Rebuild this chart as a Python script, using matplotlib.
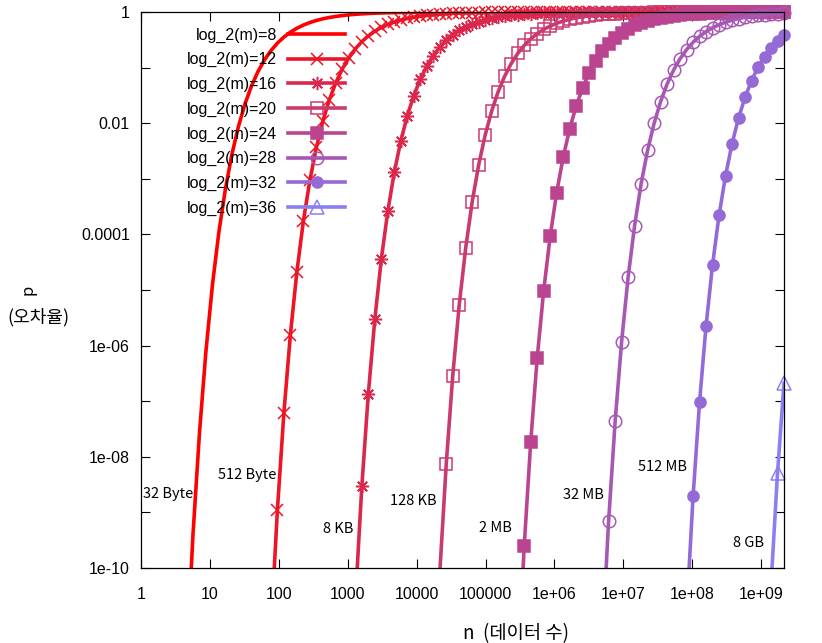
import matplotlib
matplotlib.use('Agg')
import matplotlib.pyplot as plt
from matplotlib.lines import Line2D
from matplotlib.ticker import FixedLocator, FixedFormatter, NullLocator

# ---------------- data ----------------
log2_m = [8, 12, 16, 20, 24, 28, 32, 36]
series_names = ['log_2(m)=%d' % k for k in log2_m]
size_labels = ['32 Byte', '512 Byte', '8 KB', '128 KB', '2 MB', '32 MB', '512 MB', '8 GB']
label_n = [1.07, 13.1, 438, 4110, 8.05e4, 1.33e6, 1.63e7, 3.91e8]
label_p = [2.1e-9, 4.7e-9, 5.0e-10, 1.6e-9, 5.2e-10, 2.05e-9, 6.6e-9, 2.8e-10]

x_ticks = [1, 10, 100, 1000, 10000, 100000, 1e6, 1e7, 1e8, 1e9]
x_tick_labels = ['1', '10', '100', '1000', '10000', '100000', '1e+06', '1e+07', '1e+08', '1e+09']
y_ticks = [1e-10, 1e-9, 1e-8, 1e-7, 1e-6, 1e-5, 1e-4, 1e-3, 1e-2, 1e-1, 1]
y_tick_labels = ['1e-10', '', '1e-08', '', '1e-06', '', '0.0001', '', '0.01', '', '1']
x_range = [1, 2.1475e9]
y_range = [1e-10, 1]

# sample positions of n (marker x positions)
n_samples = [
    1, 1.2424, 1.5436, 1.9177, 2.3826, 2.9602, 3.6777, 4.5693, 5.6768, 7.0530,
    8.7628, 10.887, 13.525, 16.804, 20.877, 25.938, 32.225, 40.036, 49.741, 61.80,
    76.78, 95.39, 118.51, 147.24, 182.93, 227.28, 282.37, 350.81, 435.85, 541.50,
    672.76, 835.84, 1038.4, 1290.2, 1602.9, 1991.4, 2474.2, 3073.9, 3819.0, 4744.8,
    5895.0, 7323.9, 9099.2, 11305, 14045, 17450, 21680, 26935, 33464, 41576,
    51653, 64174, 79731, 99057, 1.2307e5, 1.5290e5, 1.8997e5, 2.3601e5, 2.9322e5, 3.6430e5,
    4.5260e5, 5.6232e5, 6.9862e5, 8.6798e5, 1.0783e6, 1.3398e6, 1.6645e6, 2.0680e6, 2.5693e6, 3.1921e6,
    3.9659e6, 4.9272e6, 6.1216e6, 7.6055e6, 9.4491e6, 1.1740e7, 1.4585e7, 1.8121e7, 2.2513e7, 2.7971e7,
    3.4750e7, 4.3174e7, 5.3639e7, 6.6642e7, 8.2796e7, 1.0287e8, 1.2780e8, 1.5878e8, 1.9727e8, 2.4509e8,
    3.0450e8, 3.7830e8, 4.7001e8, 5.8394e8, 7.2548e8, 9.0134e8, 1.1198e9, 1.3913e9, 1.7285e9, 2.1475e9,
]

# index of the first sample of each series in n_samples
first_sample = [7, 20, 33, 46, 58, 71, 84, 97]

p_8 = [2.0e-12, 3.9e-10, 2.67e-8, 8.0e-7, 1.24e-5, 1.12e-4, 6.6e-4, 2.76e-3, 8.7e-3, 0.0220,
       0.0463, 0.0844, 0.1366, 0.2015, 0.2754, 0.3541, 0.4337, 0.5105, 0.5819, 0.6467,
       0.7041, 0.7541, 0.7968, 0.8328, 0.8631, 0.8884, 0.9091, 0.9262, 0.9401, 0.9515,
       0.9608, 0.9683, 0.9744, 0.9794, 0.9834, 0.9866, 0.9892, 0.9913, 0.9930, 0.9943,
       0.9954, 0.9963, 0.9971, 0.9976, 0.9981, 0.9985, 0.9988, 0.9990, 0.9992, 0.9994,
       0.9995, 0.9996, 0.9997, 0.9997, 0.9998]
p_12 = [7.4e-12, 1.10e-9, 6.14e-8, 1.57e-6, 2.13e-5, 1.736e-4, 9.40e-4, 3.66e-3, 0.01094, 0.02640,
        0.05364, 0.09493, 0.1503, 0.2176, 0.2929, 0.3722, 0.4514, 0.5272, 0.5973, 0.6605,
        0.7161, 0.7643, 0.8055, 0.8403, 0.8692, 0.8934, 0.9134, 0.9296, 0.9429, 0.9538,
        0.9626, 0.9698, 0.9756, 0.9803, 0.9841, 0.9872, 0.9897, 0.9917, 0.9933, 0.9946,
        0.9957, 0.9965, 0.9972, 0.9977, 0.9982, 0.9985, 0.9988, 0.9991, 0.9992, 0.9994,
        0.9995, 0.9996, 0.9997, 0.9997, 0.9998, 0.9998, 0.9999, 0.9999, 0.9999, 0.9999,
        1.0, 1.0, 1.0, 1.0, 1.0, 1.0, 1.0, 1.0, 1.0, 1.0,
        1.0, 1.0, 1.0, 1.0, 1.0, 1.0, 1.0, 1.0, 1.0, 1.0]
p_16 = [2.5e-11, 2.94e-9, 1.36e-7, 2.97e-6, 3.56e-5, 2.625e-4, 1.312e-3, 4.79e-3, 0.01358, 0.03142,
        0.06170, 0.1062, 0.1646, 0.2340, 0.3107, 0.3903, 0.4690, 0.5435, 0.6122, 0.6738,
        0.7276, 0.7740, 0.8139, 0.8472, 0.8751, 0.8982, 0.9172, 0.9328, 0.9456, 0.9559,
        0.9644, 0.9712, 0.9768, 0.9813, 0.9849, 0.9878, 0.9902, 0.9921, 0.9936, 0.9949,
        0.9959, 0.9967, 0.9973, 0.9978, 0.9983, 0.9986, 0.9989, 0.9991, 0.9993, 0.9994,
        0.9995, 0.9996, 0.9997, 0.9997, 0.9998, 0.9998, 0.9999, 0.9999, 0.9999, 1.0,
        1.0, 1.0, 1.0, 1.0, 1.0, 1.0, 1.0]
p_20 = [8.1e-11, 7.53e-9, 2.89e-7, 5.46e-6, 5.81e-5, 3.896e-4, 1.801e-3, 6.18e-3, 0.01668, 0.03707,
        0.07051, 0.1183, 0.1794, 0.2508, 0.3285, 0.4083, 0.4861, 0.5597, 0.6267, 0.6866,
        0.7386, 0.7840, 0.8219, 0.8541, 0.8808, 0.9028, 0.9210, 0.9360, 0.9481, 0.9580,
        0.9660, 0.9726, 0.9779, 0.9821, 0.9856, 0.9884, 0.9907, 0.9925, 0.9939, 0.9951,
        0.9961, 0.9968, 0.9975, 0.9980, 0.9984, 0.9987, 0.9989, 0.9991, 0.9993, 0.9994,
        0.9996, 0.9996, 0.9997, 0.9998]
p_24 = [1.15e-12, 2.46e-10, 1.84e-8, 5.95e-7, 9.75e-6, 9.26e-5, 5.67e-4, 2.437e-3, 7.88e-3, 0.02028,
        0.04340, 0.0800, 0.1310, 0.1948, 0.2680, 0.3464, 0.4261, 0.5032, 0.5754, 0.6409,
        0.6989, 0.7495, 0.7930, 0.8296, 0.8604, 0.8862, 0.9073, 0.9247, 0.9389, 0.9505,
        0.9600, 0.9676, 0.9739, 0.9789, 0.9830, 0.9863, 0.9890, 0.9911, 0.9928, 0.9942,
        0.9954, 0.9963]
p_28 = [4.3e-12, 7.08e-10, 4.32e-8, 1.18e-6, 1.693e-5, 1.444e-4, 8.11e-4, 3.25e-3, 9.94e-3, 0.02444,
        0.05043, 0.09030, 0.1443, 0.2106, 0.2854, 0.3645, 0.4438, 0.5201, 0.5908, 0.6547,
        0.7111, 0.7600, 0.8019, 0.8372, 0.8667, 0.8913, 0.9115, 0.9281, 0.9417]
p_32 = [1.5e-11, 1.94e-9, 9.72e-8, 2.27e-6, 2.864e-5, 2.204e-4, 1.140e-3, 4.27e-3, 0.01240, 0.02920,
        0.05816, 0.1013, 0.1583, 0.2269, 0.3031, 0.3825]
p_36 = [4.9e-11, 5.06e-9, 2.10e-7]

p_series = [p_8, p_12, p_16, p_20, p_24, p_28, p_32, p_36]

# ---------------- styles ----------------
colors = ['#ff0000', '#ed1426', '#dc274c', '#ca3a70', '#bb4490', '#a658b4', '#946bd6', '#8a80f2']
markers = [None, 'x', (8, 2, 0), 's', 's', 'o', 'o', '^']
filled = [False, False, False, False, True, False, True, False]
msizes = [0, 8.4, 9.5, 8.6, 8.4, 9.0, 8.0, 10.5]

TICK_FONT = ['Liberation Sans', 'DejaVu Sans']
KR_FONT = ['Noto Sans CJK KR', 'DejaVu Sans']

fig = plt.figure(figsize=(8.22, 6.43), dpi=100)
L, R, T, B = 141, 784, 12, 568
W, H = 822, 643
ax = fig.add_axes([L / W, 1 - B / H, (R - L) / W, (B - T) / H])
ax.set_xscale('log')
ax.set_yscale('log')

handles = []
for idx, (p, c, mk, fl, ms) in enumerate(zip(p_series, colors, markers, filled, msizes)):
    s = first_sample[idx]
    n = n_samples[s:s + len(p)]
    ax.plot(n, p, color=c, lw=2.6, solid_joinstyle='round', zorder=2 + idx)
    if mk is not None:
        pts = [(xx, yy) for xx, yy in zip(n, p) if yy >= y_range[0]]
        mx = [q[0] for q in pts]
        my = [q[1] for q in pts]
        ax.plot(mx, my, linestyle='none', marker=mk, markersize=ms,
                markeredgecolor=c, markerfacecolor=(c if fl else 'none'),
                markeredgewidth=1.1, clip_on=False, zorder=2 + idx)
    handles.append(Line2D([], [], color=c, lw=2.6, marker=mk, markersize=ms,
                          markeredgecolor=c, markerfacecolor=(c if fl else 'none'),
                          markeredgewidth=1.1))

ax.set_xlim(x_range)
ax.set_ylim(y_range)

ax.xaxis.set_major_locator(FixedLocator(x_ticks))
ax.xaxis.set_major_formatter(FixedFormatter(x_tick_labels))
ax.xaxis.set_minor_locator(NullLocator())
ax.yaxis.set_major_locator(FixedLocator(y_ticks))
ax.yaxis.set_major_formatter(FixedFormatter(y_tick_labels))
ax.yaxis.set_minor_locator(NullLocator())
ax.tick_params(axis='both', which='major', direction='in', length=6.8, width=0.8,
               top=True, right=True, labelsize=11.5, colors='black')
ax.tick_params(axis='x', pad=13.5)
ax.tick_params(axis='y', pad=8)
for lab in ax.get_xticklabels() + ax.get_yticklabels():
    lab.set_family(TICK_FONT)
for sp in ax.spines.values():
    sp.set_linewidth(0.9)
    sp.set_color('black')
    sp.set_zorder(20)

# size annotations
for name, xn, yp in zip(size_labels, label_n, label_p):
    ax.text(xn, yp, name, ha='left', va='center', fontsize=10.5, family=KR_FONT, zorder=30)

# axis labels
ax.set_xlabel('n  (데이터 수)', fontsize=13.5, family=KR_FONT)
ax.xaxis.set_label_coords((515.5 - L) / (R - L), (B - 623) / (B - T))
ax.set_ylabel('p', fontsize=12, family=KR_FONT, va='center')
ax.yaxis.set_label_coords((28 - L) / (R - L), (B - 290) / (B - T))
fig.text(38 / W, 1 - 317 / H, '(오차율)', ha='center', va='center', fontsize=13, family=KR_FONT)

# key
leg = ax.legend(handles, series_names, loc='upper right',
                bbox_to_anchor=((345 - L) / (R - L), (B - 27.5) / (B - T)),
                frameon=False, markerfirst=False, handlelength=3.56, handletextpad=0.69,
                labelspacing=0.60, borderpad=0, borderaxespad=0,
                prop={'family': TICK_FONT, 'size': 11.5})
leg.set_zorder(40)
try:
    for col in leg._legend_handle_box.get_children():
        col.align = 'right'
except Exception:
    pass

fig.savefig('out.png', dpi=100)
